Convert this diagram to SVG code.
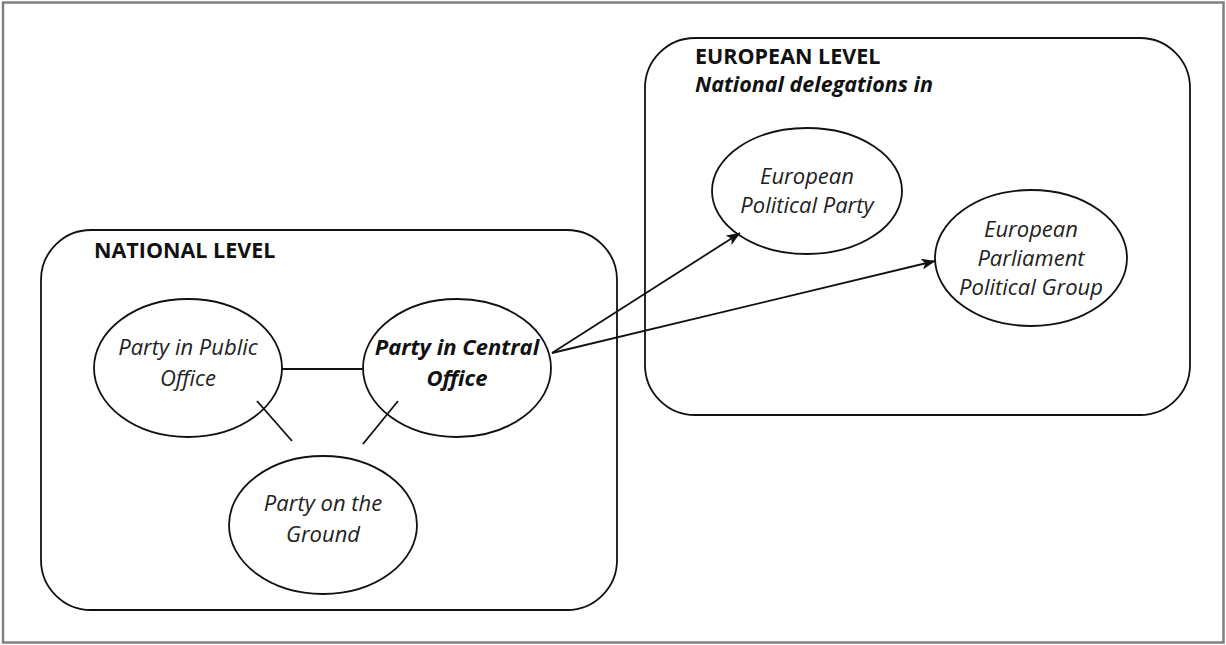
<svg xmlns="http://www.w3.org/2000/svg" width="1226" height="645" viewBox="0 0 1226 645">
<defs>
<style>
.frame{fill:none;stroke:#111;stroke-width:1.8}
.node{fill:#fff;stroke:#111;stroke-width:1.8}
.edge{fill:none;stroke:#111;stroke-width:1.8}
.t{font-family:"Open Sans","Noto Sans",sans-serif;font-size:22px;font-style:italic;fill:#222;text-anchor:middle}
.tb{font-weight:bold;fill:#111}
.h{font-family:"Open Sans","Noto Sans",sans-serif;font-size:21.5px;font-weight:bold;fill:#111}
</style>
<marker id="arr" viewBox="0 0 14 11" refX="13.5" refY="5.5" markerWidth="14" markerHeight="11" markerUnits="userSpaceOnUse" orient="auto">
<path d="M0,0 L14,5.5 L0,11 L3.5,5.5 Z" fill="#111"/>
</marker>
</defs>
<rect x="0" y="0" width="1226" height="645" fill="#fff"/>
<rect x="3" y="2.5" width="1220.5" height="640" fill="none" stroke="#808080" stroke-width="2.5"/>
<g id="national-level">
<rect class="frame" x="41" y="230" width="576" height="380" rx="50" ry="50"/>
<text class="h" x="94" y="258">NATIONAL LEVEL</text>
</g>
<g id="european-level">
<rect class="frame" x="645" y="38" width="545" height="377" rx="50" ry="50"/>
<text class="h" x="695" y="64">EUROPEAN LEVEL</text>
<text class="h" x="695" y="92" font-style="italic">National delegations in</text>
</g>
<g id="party-public-office">
<ellipse class="node" cx="188" cy="368" rx="94" ry="69"/>
<text class="t" x="188" y="355">Party in Public</text>
<text class="t" x="188" y="386">Office</text>
</g>
<g id="party-central-office">
<ellipse class="node" cx="457" cy="368" rx="94" ry="69"/>
<text class="t tb" x="457" y="355">Party in Central</text>
<text class="t tb" x="457" y="386">Office</text>
</g>
<g id="party-on-ground">
<ellipse class="node" cx="323" cy="525" rx="94" ry="69"/>
<text class="t" x="323" y="511">Party on the</text>
<text class="t" x="323" y="542">Ground</text>
</g>
<g id="european-political-party">
<ellipse class="node" cx="807" cy="191" rx="95" ry="63"/>
<text class="t" x="807" y="184">European</text>
<text class="t" x="807" y="213">Political Party</text>
</g>
<g id="ep-political-group">
<ellipse class="node" cx="1031" cy="258" rx="96" ry="68"/>
<text class="t" x="1031" y="237">European</text>
<text class="t" x="1031" y="266">Parliament</text>
<text class="t" x="1031" y="295">Political Group</text>
</g>
<g id="connectors">
<line class="edge" x1="282" y1="369" x2="363" y2="369"/>
<line class="edge" x1="257" y1="401" x2="292" y2="441"/>
<line class="edge" x1="398" y1="401" x2="363" y2="444"/>
<line class="edge" x1="552" y1="353" x2="740" y2="233" marker-end="url(#arr)"/>
<line class="edge" x1="552" y1="353" x2="935" y2="261" marker-end="url(#arr)"/>
</g>
</svg>
